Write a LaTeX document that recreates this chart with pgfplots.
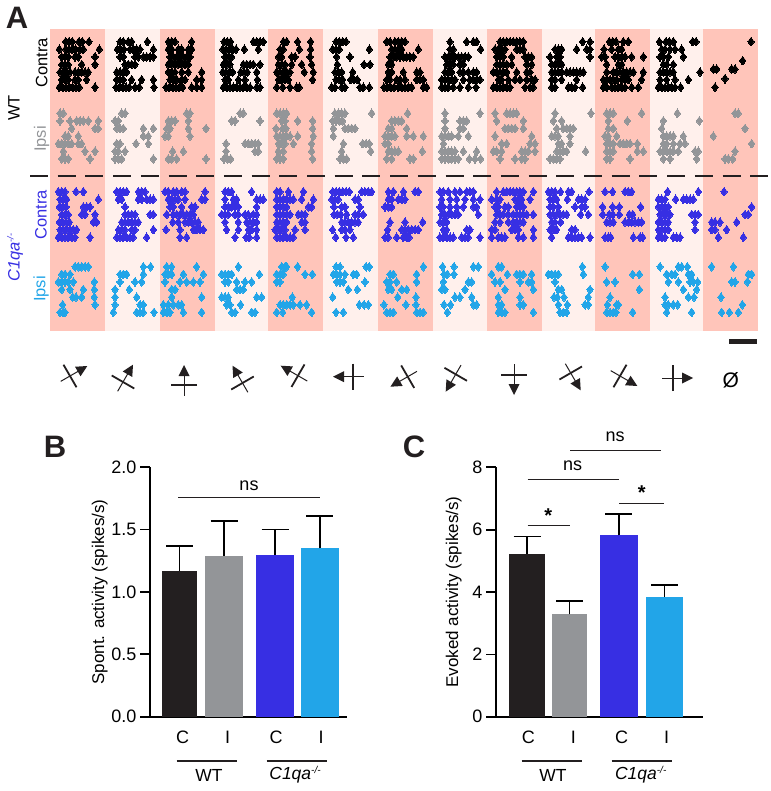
\documentclass[border=0pt]{standalone}
\usepackage{fontspec}
\setmainfont{Liberation Sans}
\usepackage{pgfplots}
\pgfplotsset{compat=1.18}
\definecolor{ck}{HTML}{231F20}
\definecolor{cg}{HTML}{939598}
\definecolor{cb}{HTML}{372FE3}
\definecolor{cc}{HTML}{22A5E8}
\definecolor{sd}{HTML}{FFC5BA}
\definecolor{sl}{HTML}{FFF0EC}
\pgfplotsset{
 barax/.style={scale only axis, axis x line=bottom, axis y line=left, axis line style={-, line width=1.7pt, color=black},
  major tick style={line width=1.7pt,color=black}, tick align=outside, major tick length=10pt,
  ymin=0, enlargelimits=false, clip=false,
  tick label style={font=\fontsize{18}{18}\selectfont}, /pgf/number format/assume math mode=true,
  label style={font=\fontsize{17}{17}\selectfont},
  x tick style={draw=none}, xticklabels={C,I,C,I},
  xticklabel style={yshift=-1pt}},
 rs/.style={only marks, color=#1, mark=diamond*, mark size=4.3pt, mark options={draw=none,fill=#1,line width=0pt}, forget plot},
}
\newcommand{\stim}[3]{\begin{scope}[shift={(axis cs:#1,#2)},rotate=#3]
 \draw[line width=1pt,color=ck] (-10.7pt,0)--(12pt,0);
 \fill[ck] (20pt,0)--(9pt,5.5pt)--(9pt,-5.5pt)--cycle;
 \draw[line width=1.8pt,color=ck] (0,-13pt)--(0,13pt);
\end{scope}}
\newcommand{\koname}[1]{{\itshape C1qa\raisebox{6pt}{\fontsize{#1}{#1}\selectfont -/-}}}
\begin{document}
\begin{tikzpicture}[x=1pt,y=1pt]
\useasboundingbox (0,0) rectangle (770,791);
% Panel B
\begin{axis}[barax, at={(150pt,74.3pt)}, anchor=south west, width=196.7pt, height=249.4pt,
  xmin=150, xmax=346.7, ymax=2, ytick={0,0.5,1,1.5,2},
  yticklabel style={/pgf/number format/fixed,/pgf/number format/fixed zerofill,/pgf/number format/precision=1},
  xtick={182.7,227.7,276,321},
  ylabel={Spont. activity (spikes/s)}, ylabel shift=-3pt]
\addplot[ybar,bar shift=0pt,bar width=35.6pt,fill=ck,draw=none,error bars/.cd,y dir=plus,y explicit,error bar style={line width=1.7pt,color=black},error mark options={rotate=90,mark size=13.5pt,line width=1.7pt,color=black}] coordinates {(179.5,1.17) +- (0,0.20)};
\addplot[ybar,bar shift=0pt,bar width=38.3pt,fill=cg,draw=none,error bars/.cd,y dir=plus,y explicit,error bar style={line width=1.7pt,color=black},error mark options={rotate=90,mark size=13.5pt,line width=1.7pt,color=black}] coordinates {(224.2,1.29) +- (0,0.28)};
\addplot[ybar,bar shift=0pt,bar width=38pt,fill=cb,draw=none,error bars/.cd,y dir=plus,y explicit,error bar style={line width=1.7pt,color=black},error mark options={rotate=90,mark size=13.5pt,line width=1.7pt,color=black}] coordinates {(275,1.30) +- (0,0.20)};
\addplot[ybar,bar shift=0pt,bar width=38.3pt,fill=cc,draw=none,error bars/.cd,y dir=plus,y explicit,error bar style={line width=1.7pt,color=black},error mark options={rotate=90,mark size=13.5pt,line width=1.7pt,color=black}] coordinates {(319.8,1.35) +- (0,0.26)};
\end{axis}
% Panel C
\begin{axis}[barax, at={(496pt,74.3pt)}, anchor=south west, width=207pt, height=249.4pt,
  xmin=496, xmax=703, ymax=8, ytick={0,2,4,6,8},
  xtick={528.3,573.3,621.7,666.7},
  ylabel={Evoked activity (spikes/s)}, ylabel shift=4pt]
\addplot[ybar,bar shift=0pt,bar width=35.7pt,fill=ck,draw=none,error bars/.cd,y dir=plus,y explicit,error bar style={line width=1.7pt,color=black},error mark options={rotate=90,mark size=13.5pt,line width=1.7pt,color=black}] coordinates {(527.2,5.23) +- (0,0.55)};
\addplot[ybar,bar shift=0pt,bar width=35.7pt,fill=cg,draw=none,error bars/.cd,y dir=plus,y explicit,error bar style={line width=1.7pt,color=black},error mark options={rotate=90,mark size=13.5pt,line width=1.7pt,color=black}] coordinates {(569.5,3.28) +- (0,0.44)};
\addplot[ybar,bar shift=0pt,bar width=37.7pt,fill=cb,draw=none,error bars/.cd,y dir=plus,y explicit,error bar style={line width=1.7pt,color=black},error mark options={rotate=90,mark size=13.5pt,line width=1.7pt,color=black}] coordinates {(618.8,5.82) +- (0,0.68)};
\addplot[ybar,bar shift=0pt,bar width=37.7pt,fill=cc,draw=none,error bars/.cd,y dir=plus,y explicit,error bar style={line width=1.7pt,color=black},error mark options={rotate=90,mark size=13.5pt,line width=1.7pt,color=black}] coordinates {(664.5,3.85) +- (0,0.37)};
\end{axis}
% Raster and annotations, in pixel coordinates of the picture
\begin{axis}[at={(0pt,0pt)},anchor=south west,scale only axis,width=770pt,height=791pt,xmin=0,xmax=770,ymin=0,ymax=791,y dir=reverse,hide axis,clip=false]
\fill[sd] (axis cs:50,29) rectangle (axis cs:105,331);
\fill[sl] (axis cs:105,29) rectangle (axis cs:160,331);
\fill[sd] (axis cs:160,29) rectangle (axis cs:215,331);
\fill[sl] (axis cs:215,29) rectangle (axis cs:268,331);
\fill[sd] (axis cs:268,29) rectangle (axis cs:323,331);
\fill[sl] (axis cs:323,29) rectangle (axis cs:378,331);
\fill[sd] (axis cs:378,29) rectangle (axis cs:433,331);
\fill[sl] (axis cs:433,29) rectangle (axis cs:487,331);
\fill[sd] (axis cs:487,29) rectangle (axis cs:542,331);
\fill[sl] (axis cs:542,29) rectangle (axis cs:595,331);
\fill[sd] (axis cs:595,29) rectangle (axis cs:650,331);
\fill[sl] (axis cs:650,29) rectangle (axis cs:703,331);
\fill[sd] (axis cs:703,29) rectangle (axis cs:758,331);
% WT contra P1-P4
\addplot[rs=black] table[row sep=\\,x expr=\thisrowno{0}/3,y expr=41.7+7.6*\thisrowno{1}] {
197 0\\207 0\\217 0\\237 0\\247 0\\267 0\\178 1\\197 1\\207 1\\217 1\\227 1\\240 1\\250 1\\298 1\\185 2\\195 2\\205 2\\225 2\\235 2\\285 2\\185 3\\195 3\\205 3\\245 3\\285 3\\180 4\\190 4\\200 4\\210 4\\225 4\\235 4\\245 4\\255 4\\265 4\\185 5\\195 5\\205 5\\225 5\\235 5\\260 5\\178 6\\188 6\\198 6\\208 6\\218 6\\228 6\\238 6\\285 6\\
360 0\\370 0\\385 0\\395 0\\442 0\\352 1\\362 1\\372 1\\390 1\\400 1\\410 1\\420 1\\460 1\\360 2\\370 2\\405 2\\415 2\\430 2\\440 2\\450 2\\460 2\\375 3\\385 3\\395 3\\405 3\\350 4\\360 4\\370 4\\380 4\\350 5\\360 5\\370 5\\395 5\\425 5\\460 5\\348 6\\358 6\\368 6\\378 6\\388 6\\405 6\\418 6\\462 6\\
505 0\\515 0\\525 0\\575 0\\505 1\\515 1\\535 1\\545 1\\565 1\\575 1\\510 2\\520 2\\530 2\\540 2\\550 2\\560 2\\570 2\\505 3\\515 3\\525 3\\535 3\\545 3\\555 3\\565 3\\505 4\\515 4\\525 4\\545 4\\565 4\\605 4\\510 5\\520 5\\530 5\\545 5\\555 5\\590 5\\605 5\\498 6\\508 6\\518 6\\528 6\\538 6\\548 6\\575 6\\590 6\\605 6\\
672 0\\682 0\\692 0\\760 0\\770 0\\780 0\\790 0\\668 1\\678 1\\688 1\\698 1\\708 1\\733 1\\775 1\\675 2\\685 2\\695 2\\670 3\\680 3\\690 3\\730 3\\740 3\\750 3\\760 3\\780 3\\668 4\\678 4\\688 4\\698 4\\722 4\\732 4\\742 4\\770 4\\675 5\\685 5\\715 5\\735 5\\772 5\\670 6\\680 6\\690 6\\700 6\\710 6\\720 6\\730 6\\740 6\\750 6\\770 6\\780 6\\
};
% WT contra P5-P9
\addplot[rs=black] table[row sep=\\,x expr=(\thisrowno{0}+780)/3,y expr=41.7+7.6*\thisrowno{1}] {
70 0\\80 0\\113 0\\152 0\\60 1\\70 1\\118 1\\152 1\\55 2\\65 2\\95 2\\105 2\\150 2\\55 3\\65 3\\75 3\\95 3\\125 3\\155 3\\50 4\\60 4\\70 4\\80 4\\90 4\\133 4\\160 4\\55 5\\65 5\\75 5\\85 5\\158 5\\50 6\\68 6\\90 6\\110 6\\118 6\\
228 0\\238 0\\248 0\\258 0\\218 1\\228 1\\238 1\\328 1\\230 2\\270 2\\232 3\\312 3\\330 3\\225 4\\235 4\\245 4\\278 4\\228 5\\238 5\\248 5\\272 5\\282 5\\292 5\\215 6\\225 6\\245 6\\255 6\\300 6\\310 6\\328 6\\
380 0\\390 0\\405 0\\415 0\\425 0\\435 0\\395 1\\405 1\\415 1\\425 1\\475 1\\390 2\\400 2\\410 2\\420 2\\430 2\\440 2\\450 2\\460 2\\385 3\\395 3\\385 4\\395 4\\430 4\\470 4\\480 4\\380 5\\390 5\\410 5\\420 5\\435 5\\470 5\\480 5\\490 5\\372 6\\382 6\\392 6\\402 6\\415 6\\425 6\\435 6\\445 6\\455 6\\490 6\\500 6\\
570 0\\620 0\\640 0\\650 0\\570 1\\580 1\\662 1\\555 2\\565 2\\575 2\\585 2\\595 2\\605 2\\615 2\\625 2\\560 3\\570 3\\580 3\\600 3\\610 3\\555 4\\565 4\\575 4\\600 4\\610 4\\625 4\\640 4\\650 4\\545 5\\555 5\\565 5\\575 5\\585 5\\610 5\\630 5\\640 5\\650 5\\660 5\\545 6\\555 6\\565 6\\580 6\\600 6\\625 6\\648 6\\
720 0\\730 0\\740 0\\750 0\\760 0\\770 0\\780 0\\790 0\\705 1\\715 1\\725 1\\735 1\\770 1\\780 1\\790 1\\710 2\\720 2\\730 2\\755 2\\795 2\\805 2\\815 2\\710 3\\720 3\\730 3\\740 3\\755 3\\800 3\\815 3\\700 4\\710 4\\720 4\\730 4\\740 4\\770 4\\800 4\\810 4\\715 5\\725 5\\745 5\\765 5\\780 5\\800 5\\815 5\\825 5\\700 6\\710 6\\720 6\\730 6\\740 6\\750 6\\795 6\\810 6\\820 6\\
};
% WT contra P10-P13
\addplot[rs=black] table[row sep=\\,x expr=(\thisrowno{0}+1530)/3,y expr=41.7+7.6*\thisrowno{1}] {
218 0\\240 0\\135 1\\145 1\\155 1\\200 1\\230 1\\240 1\\120 2\\140 2\\150 2\\240 2\\125 3\\135 3\\145 3\\155 3\\125 4\\135 4\\145 4\\155 4\\170 4\\180 4\\190 4\\200 4\\210 4\\220 4\\125 5\\135 5\\155 5\\200 5\\125 6\\135 6\\175 6\\185 6\\195 6\\218 6\\
298 0\\308 0\\318 0\\340 0\\355 0\\282 1\\305 1\\325 1\\335 1\\275 2\\285 2\\315 2\\325 2\\335 2\\345 2\\365 2\\400 2\\290 3\\325 3\\335 3\\290 4\\310 4\\320 4\\330 4\\340 4\\350 4\\360 4\\370 4\\400 4\\280 5\\290 5\\300 5\\310 5\\320 5\\335 5\\345 5\\355 5\\395 5\\280 6\\290 6\\305 6\\315 6\\325 6\\335 6\\345 6\\365 6\\385 6\\
448 0\\468 0\\478 0\\490 0\\548 0\\558 0\\455 1\\465 1\\480 1\\495 1\\515 1\\450 2\\460 2\\475 2\\520 2\\460 3\\470 3\\490 3\\450 4\\460 4\\470 4\\480 4\\490 4\\570 4\\450 5\\470 5\\495 5\\535 5\\445 6\\455 6\\465 6\\475 6\\485 6\\495 6\\512 6\\
723 0\\698 2.5\\610 3.6\\620 3.6\\665 3.6\\675 3.6\\645 4.87\\615 6\\
};
% WT ipsi
\addplot[rs=cg] table[row sep=\\,x expr=\thisrowno{0}/3,y expr=113.3+7.6*\thisrowno{1}] {
180 0\\190 0\\180 1\\210 1\\230 1\\240 1\\250 1\\265 1\\295 1\\215 2\\285 2\\295 2\\195 3\\205 3\\235 3\\175 4\\185 4\\195 4\\205 4\\215 4\\235 4\\245 4\\190 5\\255 5\\285 5\\185 6\\195 6\\205 6\\270 6\\
365 0\\375 0\\345 1\\355 1\\350 2\\360 2\\370 2\\430 2\\460 2\\430 3\\445 3\\350 4\\360 4\\408 4\\445 4\\345 5\\355 5\\375 5\\345 6\\355 6\\365 6\\460 6\\
560 0\\570 0\\505 1\\515 1\\525 1\\565 1\\500 2\\510 2\\565 2\\618 2\\495 3\\505 3\\570 3\\518 5\\550 5\\505 6\\515 6\\530 6\\618 6\\
720 0\\730 0\\695 1\\705 1\\780 1\\678 4\\735 4\\745 4\\755 4\\765 4\\775 4\\678 5\\765 5\\775 5\\672 6\\682 6\\692 6\\
};
\addplot[rs=cg] table[row sep=\\,x expr=(\thisrowno{0}+780)/3,y expr=113.3+7.6*\thisrowno{1}] {
50 0\\60 0\\70 0\\80 0\\65 1\\75 1\\113 1\\158 1\\48 2\\68 2\\78 2\\158 2\\50 3\\60 3\\70 3\\80 3\\90 3\\113 3\\160 3\\55 4\\65 4\\75 4\\100 4\\155 4\\55 5\\70 5\\155 5\\50 6\\60 6\\70 6\\158 6\\
225 0\\235 0\\245 0\\255 0\\335 0\\218 1\\228 1\\238 1\\248 1\\220 2\\255 2\\265 2\\275 2\\285 2\\220 3\\250 4\\308 4\\318 4\\328 4\\245 5\\332 5\\240 6\\250 6\\260 6\\
443 0\\395 1\\405 1\\415 1\\425 1\\385 2\\395 2\\440 2\\375 3\\385 3\\395 3\\405 3\\440 3\\460 3\\490 3\\375 4\\385 4\\385 5\\395 5\\405 5\\415 5\\487 5\\380 6\\395 6\\450 6\\460 6\\
555 0\\660 0\\555 1\\600 1\\610 1\\620 1\\555 2\\600 2\\610 2\\545 3\\555 3\\565 3\\575 3\\595 3\\625 3\\550 4\\545 5\\555 5\\565 5\\575 5\\585 5\\610 5\\650 5\\545 6\\555 6\\565 6\\575 6\\585 6\\595 6\\628 6\\645 6\\662 6\\
705 0\\740 0\\750 0\\760 0\\770 0\\710 1\\790 1\\735 2\\745 2\\755 2\\765 2\\790 2\\705 3\\815 3\\725 4\\740 4\\810 4\\825 4\\700 5\\710 5\\725 5\\785 5\\795 5\\805 5\\825 5\\720 6\\765 6\\785 6\\795 6\\
};
\addplot[rs=cg] table[row sep=\\,x expr=(\thisrowno{0}+1530)/3,y expr=113.3+7.6*\thisrowno{1}] {
135 0\\243 0\\130 1\\155 1\\140 2\\160 2\\170 2\\180 2\\190 2\\125 3\\135 3\\145 3\\180 3\\145 4\\155 4\\180 4\\140 5\\150 5\\160 5\\170 5\\227 5\\120 6\\130 6\\140 6\\150 6\\
290 0\\300 0\\310 0\\395 0\\295 1\\352 1\\295 2\\310 2\\285 3\\295 3\\320 3\\290 4\\300 4\\310 4\\330 4\\340 4\\350 4\\360 4\\382 4\\290 5\\300 5\\310 5\\382 5\\400 5\\290 6\\300 6\\360 6\\
502 0\\460 1\\568 1\\455 2\\460 3\\470 3\\480 3\\490 3\\520 3\\460 4\\470 4\\490 4\\510 4\\525 4\\450 5\\460 5\\470 5\\480 5\\490 5\\505 5\\555 5\\565 5\\460 6\\480 6\\560 6\\
675 0\\685 0\\705 2\\610 3\\725 4\\675 5\\645 6\\655 6\\668 6\\
};
% KO contra
\addplot[rs=cb] table[row sep=\\,x expr=\thisrowno{0}/3,y expr=191.7+7.6*\thisrowno{1}] {
175 0\\185 0\\195 0\\228 0\\250 0\\180 1\\190 1\\200 1\\295 1\\178 2\\188 2\\198 2\\250 2\\260 2\\270 2\\185 3\\195 3\\205 3\\245 3\\255 3\\285 3\\178 4\\188 4\\198 4\\208 4\\280 4\\290 4\\180 5\\190 5\\200 5\\210 5\\220 5\\230 5\\175 6\\185 6\\195 6\\205 6\\215 6\\225 6\\270 6\\
350 0\\360 0\\370 0\\380 0\\415 0\\425 0\\435 0\\355 1\\365 1\\415 1\\425 1\\440 1\\450 1\\460 1\\375 2\\375 3\\385 3\\395 3\\405 3\\450 3\\460 3\\365 4\\375 4\\385 4\\395 4\\405 4\\415 4\\355 5\\365 5\\375 5\\395 5\\405 5\\460 5\\350 6\\360 6\\370 6\\380 6\\390 6\\400 6\\440 6\\
495 0\\505 0\\520 0\\530 0\\545 0\\555 0\\615 0\\505 1\\515 1\\525 1\\535 1\\555 1\\605 1\\615 1\\510 2\\520 2\\545 2\\575 2\\585 2\\500 3\\520 3\\530 3\\540 3\\550 3\\560 3\\570 3\\580 3\\518 4\\535 4\\555 4\\565 4\\575 4\\585 4\\595 4\\498 5\\540 5\\580 5\\590 5\\600 5\\610 5\\540 6\\560 6\\
675 0\\685 0\\695 0\\755 0\\675 1\\700 1\\710 1\\770 1\\780 1\\790 1\\675 2\\685 2\\695 2\\705 2\\715 2\\770 2\\665 3\\675 3\\685 3\\705 3\\715 3\\735 3\\745 3\\760 3\\770 3\\675 4\\715 4\\740 4\\750 4\\760 4\\770 4\\680 5\\715 5\\745 5\\755 5\\770 5\\705 6\\738 6\\748 6\\770 6\\
};
\addplot[rs=cb] table[row sep=\\,x expr=(\thisrowno{0}+780)/3,y expr=191.7+7.6*\thisrowno{1}] {
50 0\\60 0\\85 0\\130 0\\50 1\\60 1\\70 1\\80 1\\90 1\\100 1\\125 1\\160 1\\50 2\\60 2\\70 2\\80 2\\145 2\\155 2\\50 3\\60 3\\70 3\\80 3\\90 3\\115 3\\125 3\\135 3\\50 4\\60 4\\70 4\\80 4\\125 4\\135 4\\45 5\\55 5\\65 5\\75 5\\105 5\\135 5\\50 6\\60 6\\70 6\\80 6\\90 6\\100 6\\
218 0\\228 0\\238 0\\248 0\\258 0\\268 0\\305 0\\315 0\\325 0\\335 0\\215 1\\225 1\\235 1\\285 1\\295 1\\222 2\\245 2\\255 2\\300 2\\222 3\\232 3\\242 3\\260 3\\285 3\\295 3\\310 3\\245 4\\255 4\\265 4\\275 4\\285 4\\295 4\\218 5\\245 5\\255 5\\270 5\\227 6\\258 6\\280 6\\
385 0\\400 0\\430 0\\465 0\\475 0\\385 1\\395 1\\415 1\\425 1\\435 1\\375 2\\385 2\\395 2\\390 4\\435 4\\488 4\\383 5\\425 5\\435 5\\445 5\\455 5\\465 5\\475 5\\375 6\\385 6\\410 6\\430 6\\440 6\\448 6\\
540 0\\550 0\\565 0\\585 0\\600 0\\620 0\\630 0\\640 0\\545 1\\570 1\\590 1\\615 1\\640 1\\660 1\\540 2\\550 2\\570 2\\590 2\\610 2\\640 2\\650 2\\545 3\\555 3\\565 3\\575 3\\585 3\\595 3\\655 3\\540 4\\550 4\\560 4\\550 5\\560 5\\620 5\\630 5\\540 6\\550 6\\560 6\\570 6\\580 6\\605 6\\615 6\\625 6\\660 6\\
710 0\\730 0\\740 0\\750 0\\760 0\\770 0\\780 0\\790 0\\820 0\\695 1\\710 1\\720 1\\765 1\\775 1\\785 1\\810 1\\705 2\\715 2\\735 2\\745 2\\770 2\\780 2\\790 2\\710 3\\720 3\\730 3\\745 3\\760 3\\770 3\\780 3\\790 3\\800 3\\820 3\\705 4\\720 4\\745 4\\760 4\\770 4\\780 4\\790 4\\695 5\\705 5\\755 5\\765 5\\775 5\\820 5\\695 6\\715 6\\725 6\\735 6\\775 6\\790 6\\820 6\\
};
\addplot[rs=cb] table[row sep=\\,x expr=(\thisrowno{0}+1530)/3,y expr=191.7+7.6*\thisrowno{1}] {
115 0\\125 0\\135 0\\152 0\\175 0\\185 0\\237 0\\120 1\\130 1\\140 1\\172 1\\205 1\\215 1\\225 1\\120 2\\130 2\\145 2\\195 2\\215 2\\225 2\\120 3\\130 3\\140 3\\150 3\\160 3\\170 3\\212 3\\235 3\\125 4\\135 4\\152 4\\120 5\\130 5\\140 5\\185 5\\195 5\\125 6\\175 6\\185 6\\195 6\\205 6\\215 6\\240 6\\
285 0\\308 0\\345 0\\355 0\\365 0\\278 2\\308 2\\328 2\\392 2\\278 3\\298 3\\308 3\\328 3\\358 3\\368 3\\290 4\\300 4\\310 4\\345 4\\355 4\\365 4\\375 4\\385 4\\395 4\\285 6\\295 6\\302 6\\370 6\\390 6\\398 6\\
473 0\\565 0\\445 1\\455 1\\465 1\\497 1\\520 1\\530 1\\540 1\\550 1\\445 2\\455 2\\465 2\\475 2\\450 3\\460 3\\470 3\\480 3\\545 3\\555 3\\565 3\\445 4\\455 4\\465 4\\475 4\\555 4\\445 5\\455 5\\465 5\\475 5\\555 5\\445 6\\455 6\\465 6\\490 6\\500 6\\510 6\\
642 0\\725 2\\705 3\\715 3\\605 4\\615 4\\630 4\\680 4\\605 5\\615 5\\650 5\\625 6\\700 6\\
};
% KO ipsi
\addplot[rs=cc] table[row sep=\\,x expr=\thisrowno{0}/3,y expr=266.7+7.6*\thisrowno{1}] {
225 0\\235 0\\245 0\\255 0\\265 0\\185 1\\195 1\\210 1\\175 2\\185 2\\195 2\\205 2\\220 2\\283 2\\185 3\\210 3\\250 3\\283 3\\218 4\\228 4\\245 4\\283 4\\188 5\\285 5\\180 6\\190 6\\195 6\\
430 0\\452 0\\360 1\\370 1\\380 1\\430 1\\360 2\\405 2\\425 2\\345 3\\388 3\\345 4\\410 4\\345 5\\420 5\\430 5\\340 6\\410 6\\420 6\\430 6\\462 6\\
500 0\\515 0\\590 0\\495 1\\505 1\\515 1\\550 1\\610 1\\495 2\\540 2\\560 2\\580 2\\600 2\\515 3\\525 3\\515 4\\605 4\\490 5\\505 5\\520 5\\535 5\\545 5\\490 6\\500 6\\510 6\\550 6\\605 6\\
715 0\\665 1\\675 1\\685 1\\695 1\\778 1\\675 2\\685 2\\710 2\\735 2\\755 2\\710 3\\720 3\\730 3\\665 4\\675 4\\685 4\\770 4\\785 4\\680 5\\690 5\\722 5\\695 6\\705 6\\755 6\\765 6\\
};
\addplot[rs=cc] table[row sep=\\,x expr=(\thisrowno{0}+780)/3,y expr=266.7+7.6*\thisrowno{1}] {
65 0\\75 0\\80 0\\113 0\\50 1\\60 1\\70 1\\135 1\\157 1\\50 2\\60 2\\97 4\\60 5\\70 5\\80 5\\90 5\\100 5\\120 5\\140 5\\50 6\\68 6\\155 6\\
228 0\\240 0\\318 0\\328 0\\220 1\\230 1\\240 1\\255 1\\280 1\\290 1\\230 2\\240 2\\250 2\\315 2\\265 3\\292 3\\218 4\\298 5\\312 5\\325 5\\228 6\\250 6\\
490 0\\390 1\\400 1\\470 1\\380 2\\390 2\\410 2\\470 2\\385 3\\395 3\\425 3\\440 3\\413 4\\468 4\\372 5\\438 5\\468 5\\380 6\\390 6\\400 6\\470 6\\480 6\\490 6\\
548 0\\582 0\\640 0\\655 0\\552 1\\562 1\\582 1\\550 2\\625 2\\635 2\\545 3\\555 3\\615 3\\585 4\\600 4\\635 4\\552 5\\572 5\\640 5\\650 5\\562 6\\
715 0\\725 0\\695 1\\742 1\\770 1\\780 1\\790 1\\815 1\\705 2\\720 2\\780 2\\805 2\\815 2\\735 3\\820 3\\715 4\\780 4\\715 5\\725 5\\780 5\\790 5\\715 6\\725 6\\735 6\\820 6\\
};
\addplot[rs=cc] table[row sep=\\,x expr=(\thisrowno{0}+1530)/3,y expr=266.7+7.6*\thisrowno{1}] {
217 0\\115 1\\125 1\\135 1\\145 1\\220 1\\135 2\\145 3\\155 3\\240 3\\132 4\\142 4\\162 4\\235 4\\145 5\\172 5\\225 5\\235 5\\150 6\\160 6\\170 6\\
285 0\\368 1\\388 1\\290 2\\315 2\\388 3\\300 4\\292 5\\320 5\\325 5\\290 6\\300 6\\310 6\\318 6\\368 6\\
450 0\\505 0\\515 0\\532 0\\470 1\\485 1\\495 1\\535 1\\545 1\\475 2\\505 2\\540 2\\550 2\\563 2\\520 3\\560 3\\465 4\\535 4\\552 4\\465 5\\475 5\\490 5\\503 5\\470 6\\545 6\\
605 0\\670 0\\715 1\\725 1\\665 2\\675 2\\712 2\\633 4\\697 5\\635 6\\658 6\\685 6\\
};
% dashed line
\draw[line width=2pt,color=ck,dash pattern=on 18pt off 9.7pt] (axis cs:30,176.5)--(axis cs:770,176.5);
% scale bar
\fill[ck] (axis cs:729,339) rectangle (axis cs:757,343.7);
% row labels
\tikzset{lab/.style={font=\fontsize{16.5}{16}\selectfont,rotate=90,anchor=center,inner sep=0pt}}
\node[lab,color=black] at (axis cs:41.7,63) {Contra};
\node[lab,color=cg] at (axis cs:41.7,139) {Ipsi};
\node[lab,color=black] at (axis cs:14,108) {WT};
\node[lab,color=cb] at (axis cs:41,215) {Contra};
\node[lab,color=cc] at (axis cs:41,289) {Ipsi};
\node[lab,color=cb] at (axis cs:15,257.5) {\koname{9}};
% letters
\tikzset{let/.style={font=\fontsize{31}{31}\selectfont\bfseries,anchor=center,inner sep=0pt,color=ck}}
\node[let] at (axis cs:17,17.5) {A};
\node[let] at (axis cs:55,446.7) {B};
\node[let] at (axis cs:414,446.7) {C};
% stimulus icons
\stim{70}{376}{30}
\stim{123}{382}{60}
\stim{184}{385}{90}
\stim{242.5}{383}{120}
\stim{298}{375.7}{150}
\stim{353}{376.7}{180}
\stim{407.7}{376.7}{210}
\stim{455.7}{374.3}{240}
\stim{514}{375}{270}
\stim{570.7}{373}{300}
\stim{620}{376}{330}
\stim{673}{378}{0}
\node[font=\fontsize{21}{21}\selectfont,inner sep=0pt] at (axis cs:730.7,380.7) {Ø};
% panel B annotations
\tikzset{ann/.style={font=\fontsize{18}{18}\selectfont,inner sep=0pt,anchor=center},grp/.style={font=\fontsize{17.5}{17.5}\selectfont,inner sep=0pt,anchor=center}}
\draw[line width=1pt,color=ck] (axis cs:178,497.3)--(axis cs:320,497.3);
\node[ann] at (axis cs:249,485.7) {ns};
\draw[line width=1.5pt,color=ck] (axis cs:176.7,761)--(axis cs:236.7,761);
\draw[line width=1.5pt,color=ck] (axis cs:266.7,761)--(axis cs:326.7,761);
\node[grp] at (axis cs:209,775) {WT};
\node[grp] at (axis cs:295,775) {\koname{10}};
% panel C annotations
\draw[line width=1pt,color=ck] (axis cs:527.7,479.3)--(axis cs:619,479.3);
\node[ann] at (axis cs:572.7,465.7) {ns};
\draw[line width=1pt,color=ck] (axis cs:570,450.7)--(axis cs:660.7,450.7);
\node[ann] at (axis cs:615,437) {ns};
\draw[line width=1pt,color=ck] (axis cs:527.7,525)--(axis cs:570,525);
\node[ann,font=\fontsize{20}{20}\selectfont\bfseries] at (axis cs:548.3,516) {*};
\draw[line width=1pt,color=ck] (axis cs:619,503.3)--(axis cs:664.3,503.3);
\node[ann,font=\fontsize{20}{20}\selectfont\bfseries] at (axis cs:641.7,493) {*};
\draw[line width=1.5pt,color=ck] (axis cs:521.7,761)--(axis cs:581.7,761);
\draw[line width=1.5pt,color=ck] (axis cs:611.7,761)--(axis cs:671.7,761);
\node[grp] at (axis cs:553,775) {WT};
\node[grp] at (axis cs:640.7,775) {\koname{10}};
\end{axis}
\end{tikzpicture}
\end{document}
